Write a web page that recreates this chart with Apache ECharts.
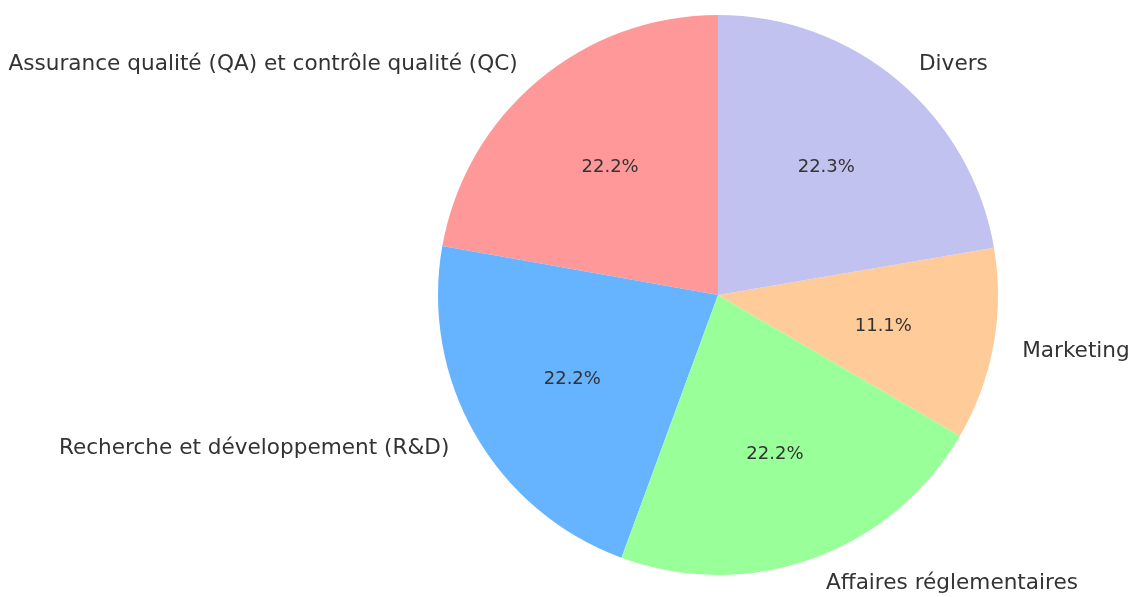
<!DOCTYPE html>
<html>
<head>
<meta charset="utf-8">
<script src="https://cdn.jsdelivr.net/npm/echarts@6/dist/echarts.min.js"></script>
<style>
  html, body { margin: 0; padding: 0; background: #fff; }
  #pie { width: 1131px; height: 597px; }
</style>
</head>
<body>
<div id="pie"></div>
<script>
var categories = [
    'Assurance qualité (QA) et contrôle qualité (QC)',
    'Recherche et développement (R&D)',
    'Affaires réglementaires',
    'Marketing',
    'Divers'
];
var shares = [22.2, 22.2, 22.2, 11.1, 22.3];
var colors = ['#ff9999', '#66b3ff', '#99ff99', '#ffcc99', '#c2c2f0'];

var center = [718, 295];
var radius = 280;
var fontFamily = 'DejaVu Sans';

var slices = categories.map(function (name, i) {
    return { name: name, value: shares[i], itemStyle: { color: colors[i] } };
});
var ghost = categories.map(function (name, i) {
    return { name: name, value: shares[i] };
});

var chart = echarts.init(document.getElementById('pie'));
chart.setOption({
    animation: false,
    series: [
        {
            type: 'pie',
            center: center,
            radius: [0, radius],
            startAngle: 90,
            clockwise: false,
            avoidLabelOverlap: false,
            silent: true,
            data: slices,
            label: {
                show: true,
                position: 'outside',
                formatter: '{b}',
                color: '#333333',
                fontFamily: fontFamily,
                fontSize: 21.6,
                offset: [0, 2]
            },
            labelLine: { show: false, length: 24, length2: 0 },
            itemStyle: { borderWidth: 0 }
        },
        {
            // transparent twin: its mid radius sits near 0.6 r for the percentages
            type: 'pie',
            center: center,
            radius: [0, 330],
            startAngle: 90,
            clockwise: false,
            avoidLabelOverlap: false,
            silent: true,
            data: ghost,
            itemStyle: { color: 'rgba(0,0,0,0)' },
            label: {
                show: true,
                position: 'inside',
                formatter: function (p) { return p.value.toFixed(1) + '%'; },
                color: '#333333',
                fontFamily: fontFamily,
                fontSize: 18,
                offset: [0, 1]
            },
            labelLine: { show: false }
        }
    ]
});
</script>
</body>
</html>
